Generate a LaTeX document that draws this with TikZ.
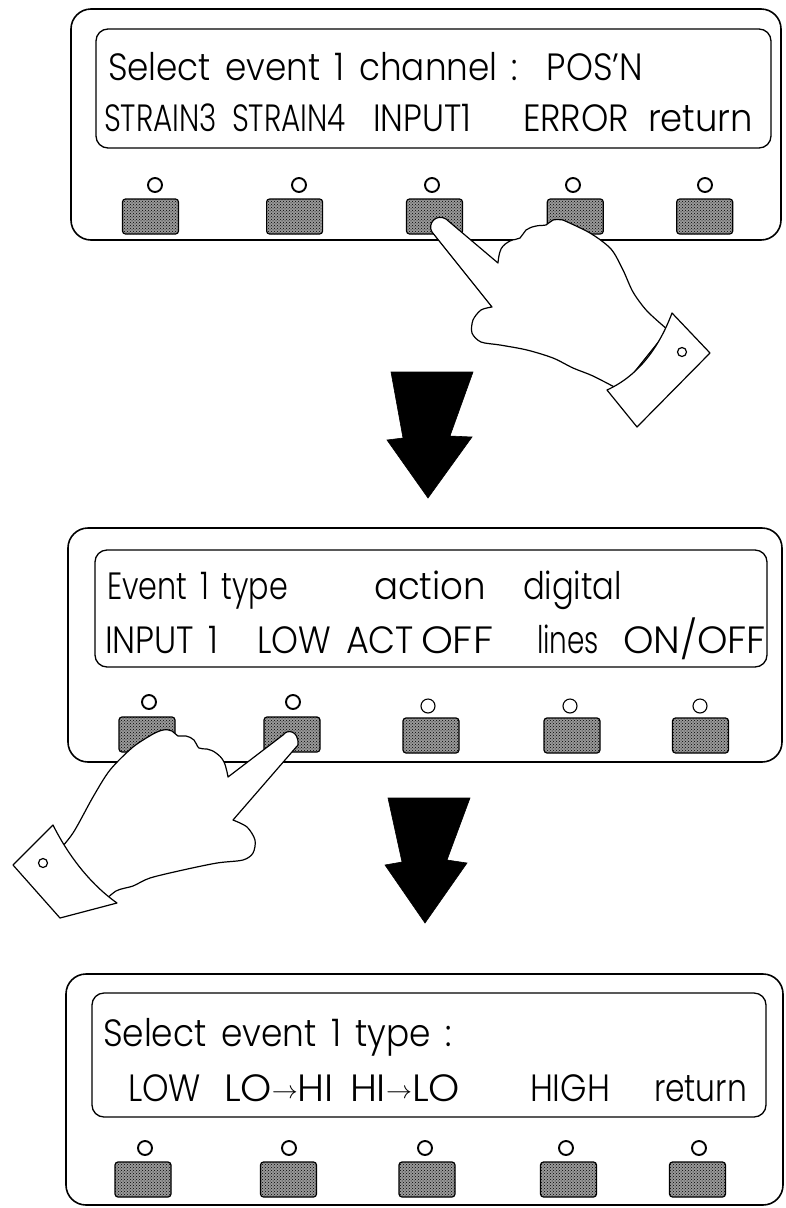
\documentclass[tikz,border=0pt]{standalone}
\usepackage{fontspec}
\usepackage{graphicx}
\usetikzlibrary{patterns}

% LCD lettering: light geometric sans, condensed to the display column widths
\newfontfamily\lcdface{Poppins Light}
\newcommand{\lcdfont}{\lcdface\fontsize{38}{40}\selectfont\spaceskip=0.42em\relax}
\newcommand{\fitw}[2]{\resizebox{#1pt}{\height}{#2}}
\newcommand{\toarrow}{\raisebox{3pt}{\fontsize{40}{40}\selectfont$\rightarrow$}}

\tikzset{
  panel/.style={draw=black, line width=1.6pt, rounded corners=20pt},
  lcd/.style={draw=black, line width=1.3pt, rounded corners=12pt},
  softkey/.style={draw=black, line width=1.2pt, rounded corners=3pt,
    minimum width=56pt, minimum height=35pt, inner sep=0pt,
    preaction={fill=black!40}, pattern=crosshatch dots, pattern color=black},
  led/.style={draw=black, circle, line width=1.9pt, minimum size=14pt, inner sep=0pt},
  dimled/.style={led, line width=1.1pt},
  word/.style={anchor=base west, inner sep=0pt, outer sep=0pt, font=\lcdfont},
  hand/.style={draw=black, fill=white, line width=1.2pt, line join=round},
  bigarrow/.style={fill=black, draw=black, line width=0.6pt, line join=miter},
}

\begin{document}
\begin{tikzpicture}[x=1pt, y=-1pt]
\useasboundingbox (0,0) rectangle (785,1208);

% ---------------- channel selection screen ----------------
\draw[panel] (71,9) rectangle (781,240);
\draw[lcd] (96,29) rectangle (771,148);
\node[word] (c1) at (108,80) {\fitw{535}{Select event 1 channel :\ \ POS’N}};
\node[word] (s1) at (104,131) {\fitw{113}{STRAIN3}};
\node[word] (s2) at (232,131) {\fitw{114}{STRAIN4}};
\node[word] (s3) at (373,131) {\fitw{98}{INPUT1}};
\node[word] (s4) at (523,131) {\fitw{106}{ERROR}};
\node[word] (s5) at (648,131) {\fitw{105}{return}};
\foreach \i/\kx/\lx in {1/150.5/155,2/294.6/299,3/434.5/432,4/575.3/573,5/704.7/705} {
  \node[led] (la\i) at (\lx,185) {};
  \node[softkey] (ka\i) at (\kx,216.5) {};
}

% hand pressing the third key
\filldraw[hand] (492,307) -- (432,232) .. controls (427,224) and (436,213) .. (446,219) -- (498,263)
  -- plot[smooth, tension=0.7] coordinates {(498,263) (501,249) (510,241) (520,238) (526,230) (536,226) (546,225) (553,220) (563,220)}
  -- plot[smooth] coordinates {(563,220) (590,233) (611,249) (623,270) (633,292) (647,311) (668,330)}
  -- (620,390)
  -- plot[smooth] coordinates {(620,390) (593,376) (573,368) (553,358) (527,350) (500,345) (481,342) (472,333) (473,320) (481,310) (492,307)}
  -- cycle;
\filldraw[hand] (672,313) .. controls (660,345) and (640,375) .. (607,390) -- (637,427) -- (710,353) -- cycle;
\draw[line width=1.2pt] (682,352) circle[radius=4.5];

% first step arrow
\fill[bigarrow] (391,372) -- (473,372) -- (450,436) -- (472,437) -- (428,498) -- (387,440) -- (403,438) -- cycle;

% ---------------- event type / action screen ----------------
\draw[panel] (68,528) rectangle (782,762);
\draw[lcd] (95,550) rectangle (767,667);
\node[word] (e1) at (107,599) {\fitw{181}{Event 1 type}};
\node[word] (e2) at (374,599) {\fitw{112}{action}};
\node[word] (e3) at (523,599) {\fitw{99}{digital}};
\node[word] (m1) at (105,653) {\fitw{113}{INPUT 1}};
\node[word] (m2) at (257,653) {\fitw{74}{LOW}};
\node[word] (m3) at (346,653) {\fitw{68}{ACT}};
\node[word] (m4) at (421,653) {\fitw{72}{OFF}};
\node[word] (m5) at (537,653) {\fitw{62}{lines}};
\node[word] (m6) at (623,653) {\fitw{143}{ON/OFF}};
\foreach \i/\kx/\lx in {1/147/149,2/292/293} {
  \node[led] (lb\i) at (\lx,702) {};
  \node[softkey] (kb\i) at (\kx,734.5) {};
}
\foreach \i/\kx/\lx in {3/431/428,4/572/570,5/700.5/700} {
  \node[dimled] (lb\i) at (\lx,706) {};
  \node[softkey] (kb\i) at (\kx,735.5) {};
}

% hand pressing the second key
\filldraw[hand] (228,777) -- (283,735) .. controls (287,729) and (299,730) .. (298,745) -- (233,820)
  -- plot[smooth] coordinates {(233,820) (247,827) (255,840) (253,853) (243,860) (217,863) (183,870) (150,878) (133,886) (116,891) (100,905)}
  -- (55,855)
  -- plot[smooth] coordinates {(55,855) (73,833) (93,797) (110,770) (133,747) (153,734)}
  -- plot[smooth, tension=0.7] coordinates {(153,734) (163,730) (172,731) (178,736) (186,736) (194,740) (199,748) (207,749) (216,753) (224,762) (228,777)}
  -- cycle;
\filldraw[hand] (53,825) .. controls (68,855) and (90,884) .. (117,903) -- (60,918) -- (13,865) -- cycle;
\draw[line width=1.2pt] (43,863) circle[radius=4.5];

% second step arrow
\fill[bigarrow] (388,798) -- (470,798) -- (447,860) -- (467,863) -- (425,923) -- (385,865) -- (402,862) -- cycle;

% ---------------- event type selection screen ----------------
\draw[panel] (66,974) rectangle (783,1205);
\draw[lcd] (92,993) rectangle (766,1117);
\node[word] (t1) at (103,1046) {\fitw{349}{Select event 1 type :}};
\node[word] (u1) at (128,1101) {\fitw{73}{LOW}};
\node[word] (u2) at (224,1101) {\fitw{110}{LO\toarrow HI}};
\node[word] (u3) at (350,1101) {\fitw{110}{HI\toarrow LO}};
\node[word] (u4) at (530,1101) {\fitw{80}{HIGH}};
\node[word] (u5) at (654,1101) {\fitw{93}{return}};
\foreach \i/\kx/\lx in {1/143/145,2/288.5/289,3/427/425,4/568.5/566,5/697.5/699} {
  \node[led] (lc\i) at (\lx,1148) {};
  \node[softkey] (kc\i) at (\kx,1179.5) {};
}
\end{tikzpicture}
\end{document}
